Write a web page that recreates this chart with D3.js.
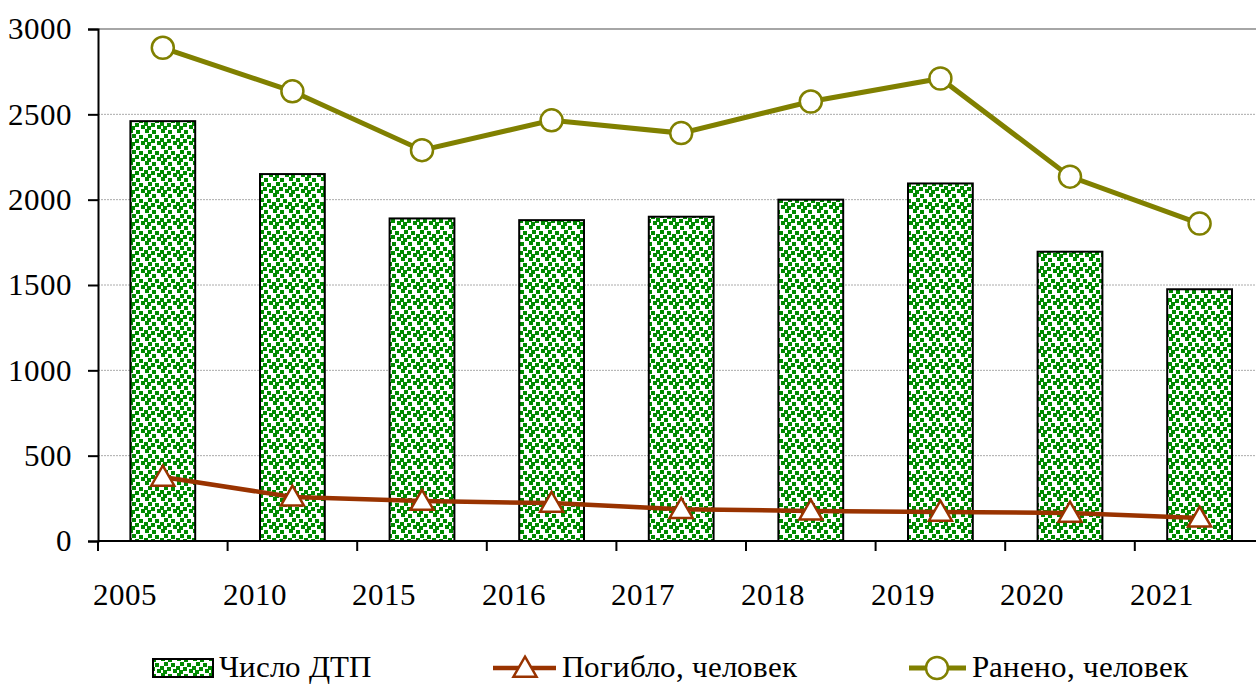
<!DOCTYPE html>
<html>
<head>
<meta charset="UTF-8">
<script src="https://d3js.org/d3.v7.min.js"></script>
<style>
  @font-face { font-family: "ChartSerif"; src: local("Liberation Serif"), local("LiberationSerif"), local("Liberation Serif Regular"), local("Tinos"), local("Times New Roman"); }
</style>
</head>
<body style="margin:0">
<svg id="s" width="1256" height="684" font-family="ChartSerif, 'Liberation Serif', serif"></svg>
<script>
// данные
const years = ["2005", "2010", "2015", "2016", "2017", "2018", "2019", "2020", "2021"];
const accidents = [2460, 2150, 1890, 1880, 1900, 2000, 2095, 1695, 1475];
const killed = [375, 258, 234, 222, 186, 176, 170, 164, 135];
const injured = [2890, 2635, 2290, 2465, 2390, 2575, 2710, 2135, 1860];
const yTicks = [0, 500, 1000, 1500, 2000, 2500, 3000];

const FONT = 'ChartSerif, "Liberation Serif", serif';
const svg = d3.select("#s");
const plotLeft = 98, plotTop = 29, plotBottom = 541;
const bandW = 129.6;
const plotRight = plotLeft + bandW * years.length;

const x = d3.scaleBand().domain(years).range([plotLeft, plotRight]).paddingInner(0.5).paddingOuter(0.25);
const xc = d => x(d) + x.bandwidth() / 2;
const y = d3.scaleLinear().domain([0, 3000]).range([plotBottom, plotTop]);

// узор для столбцов
const defs = svg.append("defs");
const pat = defs.append("pattern").attr("id", "dots")
  .attr("patternUnits", "userSpaceOnUse").attr("width", 16).attr("height", 16);
pat.append("rect").attr("width", 16).attr("height", 16).attr("fill", "#fff");
[[1,1],[8,2],[4,6],[11,7],[0,10],[7,11],[13,13],[3,14]].forEach(p => {
  pat.append("rect").attr("x", p[0]).attr("y", p[1]).attr("width", 4).attr("height", 4)
    .attr("fill", "#008a00");
});
[[13,13],[3,14]].forEach(p => {
  pat.append("rect").attr("x", p[0]).attr("y", p[1] - 16).attr("width", 4).attr("height", 4).attr("fill", "#008a00");
  pat.append("rect").attr("x", p[0] - 16).attr("y", p[1] - 16).attr("width", 4).attr("height", 4).attr("fill", "#008a00");
  pat.append("rect").attr("x", p[0] - 16).attr("y", p[1]).attr("width", 4).attr("height", 4).attr("fill", "#008a00");
});

// сетка
svg.append("g").selectAll("line").data(yTicks.filter(t => t > 0)).join("line")
  .attr("x1", plotLeft).attr("x2", 1256)
  .attr("y1", d => y(d)).attr("y2", d => y(d))
  .attr("stroke", d => d === 3000 ? "#888" : "#aaa")
  .attr("stroke-width", d => d === 3000 ? 1.5 : 1)
  .attr("stroke-dasharray", d => d === 3000 ? null : "2,1");

// столбцы
svg.append("g").selectAll("rect").data(accidents).join("rect")
  .attr("x", (d, i) => x(years[i]))
  .attr("y", d => y(d))
  .attr("width", x.bandwidth())
  .attr("height", d => y(0) - y(d))
  .attr("fill", "url(#dots)")
  .attr("stroke", "#000").attr("stroke-width", 2);

// оси
const yAxis = d3.axisLeft(y).tickValues(yTicks).tickFormat(d3.format("d")).tickSize(10).tickPadding(16);
const gy = svg.append("g").attr("transform", `translate(${plotLeft},0)`).call(yAxis)
  .attr("font-family", FONT).attr("font-size", 31);
gy.select(".domain").attr("stroke", "#000").attr("stroke-width", 2);
gy.selectAll(".tick line").attr("stroke", "#000").attr("stroke-width", 2);
gy.selectAll("text").attr("font-family", FONT).style("font-family", FONT).style("font-size", "31px").attr("fill", "#000");

const boundaries = d3.range(years.length + 1).map(i => plotLeft + i * bandW);
svg.append("line").attr("x1", plotLeft).attr("x2", 1256).attr("y1", plotBottom).attr("y2", plotBottom)
  .attr("stroke", "#000").attr("stroke-width", 2);
svg.append("g").selectAll("line").data(boundaries).join("line")
  .attr("x1", d => d).attr("x2", d => d).attr("y1", plotBottom).attr("y2", plotBottom + 10)
  .attr("stroke", "#000").attr("stroke-width", 2);
svg.selectAll("text.xlab").data(years).join("text").attr("class", "xlab")
  .attr("x", (d, i) => boundaries[i] + 27).attr("y", 605)
  .attr("text-anchor", "middle")
  .attr("font-family", FONT).style("font-family", FONT).style("font-size", "31px").text(d => d);

// линии
const line = d3.line().x((d, i) => xc(years[i])).y(d => y(d));
svg.append("path").datum(injured).attr("d", line)
  .attr("fill", "none").attr("stroke", "#808000").attr("stroke-width", 5);
svg.append("path").datum(killed).attr("d", line)
  .attr("fill", "none").attr("stroke", "#993300").attr("stroke-width", 4.5);

const tri = d3.symbol().type(d3.symbolTriangle).size(230);
svg.append("g").selectAll("path").data(killed).join("path")
  .attr("d", tri)
  .attr("transform", (d, i) => `translate(${xc(years[i])},${y(d) + 2})`)
  .attr("fill", "#fff").attr("stroke", "#993300").attr("stroke-width", 2.5);

svg.append("g").selectAll("circle").data(injured).join("circle")
  .attr("cx", (d, i) => xc(years[i])).attr("cy", d => y(d)).attr("r", 11)
  .attr("fill", "#fff").attr("stroke", "#808000").attr("stroke-width", 2.5);

// легенда
const legText = (xPos, label) => svg.append("text").attr("x", xPos).attr("y", 677)
  .attr("font-family", FONT).style("font-family", FONT).style("font-size", "31px").text(label);

svg.append("rect").attr("x", 153).attr("y", 659).attr("width", 60).attr("height", 18)
  .attr("fill", "url(#dots)").attr("stroke", "#000").attr("stroke-width", 2);
legText(219, "Число ДТП");

svg.append("line").attr("x1", 493).attr("x2", 556).attr("y1", 668).attr("y2", 668)
  .attr("stroke", "#993300").attr("stroke-width", 4.5);
svg.append("path").attr("d", tri).attr("transform", "translate(525,670)")
  .attr("fill", "#fff").attr("stroke", "#993300").attr("stroke-width", 2.5);
legText(562, "Погибло, человек");

svg.append("line").attr("x1", 909).attr("x2", 966).attr("y1", 668).attr("y2", 668)
  .attr("stroke", "#808000").attr("stroke-width", 5);
svg.append("circle").attr("cx", 937).attr("cy", 668).attr("r", 11)
  .attr("fill", "#fff").attr("stroke", "#808000").attr("stroke-width", 2.5);
legText(972, "Ранено, человек");
</script>
</body>
</html>
